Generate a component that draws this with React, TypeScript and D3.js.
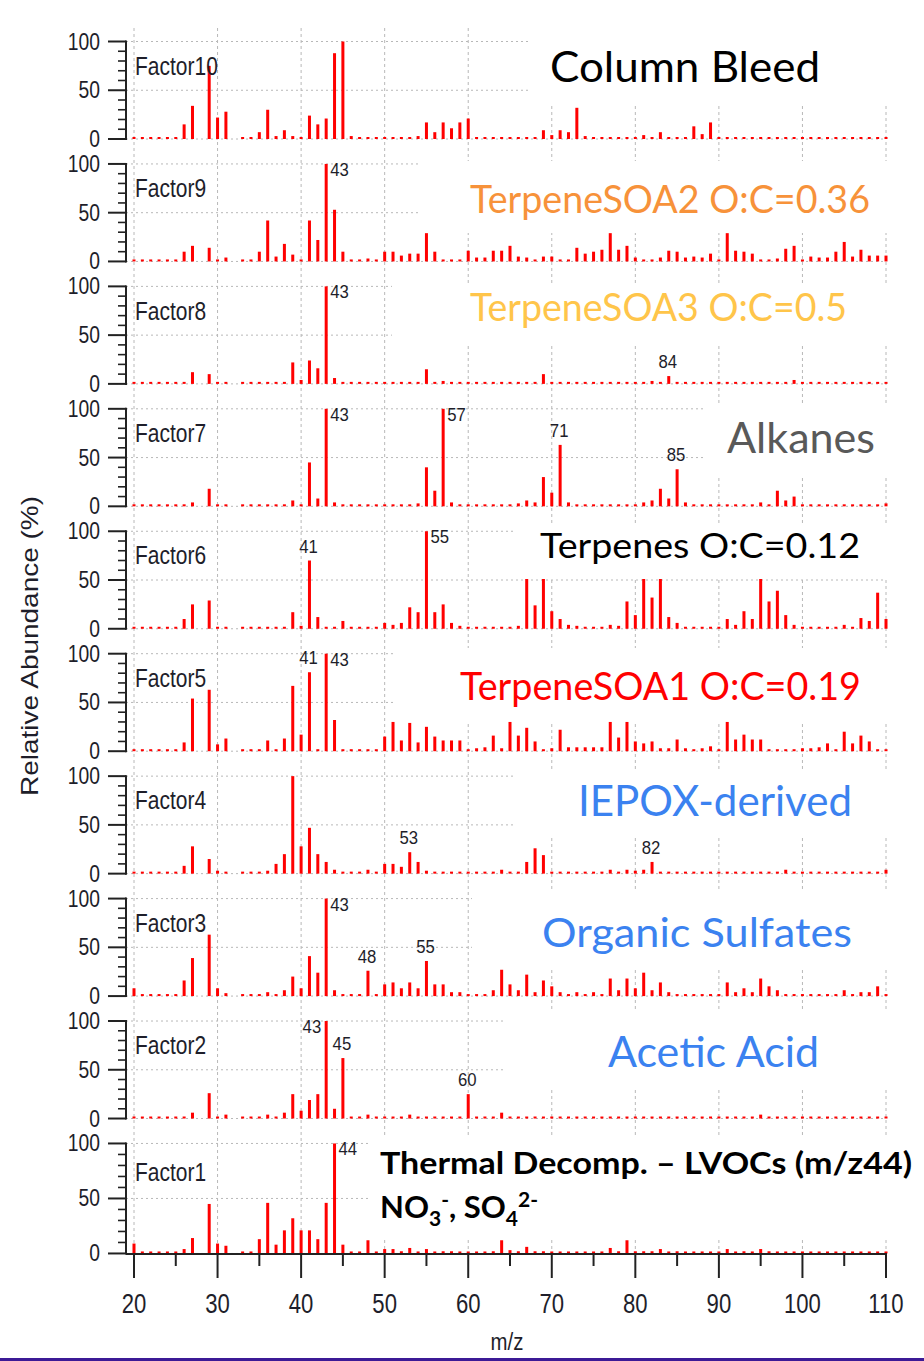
import React from 'react';
import * as d3 from 'd3';

// m/z 20..110, one value per integer m/z (relative abundance, %); 0 = no bar, 0.5 = tiny dot
const factor10 = [
  0.5, 0.5, 0.5, 0.5, 0.5, 0.5, 15, 34, 0, 75,
  22, 28, 0, 0.5, 0.5, 7, 30, 3, 9, 3,
  0.5, 24, 15, 21, 88, 100, 3, 1, 0.5, 0.5,
  1, 1, 1, 1, 3, 17, 7, 17, 11, 17,
  21, 2, 1, 1, 0.5, 1, 1, 1, 1, 9,
  4, 9, 7, 32, 3, 2, 1, 1, 1, 1,
  1, 4, 2, 7, 2, 2, 2, 13, 5, 17,
  1, 1, 1, 1, 1, 1, 1, 2, 1, 1,
  1, 1, 2, 1, 1, 1, 1, 1, 1, 1,
  1,
];
const factor9 = [
  0.5, 0.5, 0.5, 0.5, 0.5, 2, 10, 16, 0, 14,
  0.5, 4, 0, 0.5, 0.5, 10, 42, 5, 18, 7,
  0.5, 42, 22, 100, 53, 10, 2, 2, 3, 2,
  10, 10, 6, 8, 8, 29, 10, 0.5, 2, 0.5,
  11, 4, 4, 11, 11, 16, 5, 4, 0.5, 5,
  5, 2, 2, 14, 8, 10, 12, 29, 12, 16,
  4, 1, 2, 4, 11, 10, 4, 5, 4, 8,
  2, 29, 11, 10, 8, 0.5, 0.5, 3, 13, 16,
  2, 5, 4, 4, 10, 20, 5, 12, 6, 6,
  6,
];
const factor8 = [
  0.5, 0.5, 0.5, 0.5, 0.5, 0.5, 2, 12, 0, 10,
  0.5, 2, 0, 0.5, 0.5, 0.5, 0.5, 0.5, 2, 22,
  4, 24, 16, 100, 6, 0.5, 0.5, 0.5, 0.5, 0.5,
  2, 2, 2, 2, 2, 15, 2, 3, 0.5, 0.5,
  0.5, 0.5, 0.5, 0.5, 0.5, 0.5, 2, 2, 2, 10,
  2, 2, 0.5, 0.5, 0.5, 0.5, 0.5, 0.5, 0.5, 0.5,
  0.5, 2, 3, 2, 8, 2, 0.5, 0.5, 0.5, 0.5,
  0.5, 0.5, 0.5, 0.5, 0.5, 2, 2, 2, 0.5, 4,
  0.5, 0.5, 0.5, 0.5, 0.5, 0.5, 0.5, 0.5, 0.5, 0.5,
  0.5,
];
const factor7 = [
  0.5, 0.5, 0.5, 0.5, 0.5, 0.5, 0.5, 4, 0, 18,
  1, 0.5, 0, 0.5, 0.5, 0.5, 0.5, 0.5, 0.5, 6,
  2, 45, 8, 100, 4, 0.5, 0.5, 0.5, 0.5, 0.5,
  0.5, 2, 0.5, 0.5, 3, 40, 16, 100, 4, 0.5,
  0.5, 0.5, 0.5, 0.5, 0.5, 0.5, 3, 6, 4, 30,
  14, 63, 4, 0.5, 0.5, 0.5, 0.5, 2, 0.5, 1,
  0.5, 4, 6, 18, 8, 38, 4, 0.5, 0.5, 0.5,
  0.5, 2, 0.5, 0.5, 0.5, 4, 2, 16, 6, 10,
  1, 0.5, 0.5, 0.5, 0.5, 0.5, 0.5, 0.5, 0.5, 2,
  3,
];
const factor6 = [
  0.5, 0.5, 0.5, 0.5, 0.5, 1, 10, 25, 0, 29,
  0.5, 2, 0, 0.5, 0.5, 0.5, 2, 1, 0.5, 17,
  3, 70, 12, 0.5, 1, 8, 2, 0.5, 0.5, 0.5,
  6, 4, 6, 22, 17, 100, 17, 25, 6, 3,
  2, 0.5, 0.5, 0.5, 0.5, 0.5, 3, 60, 24, 60,
  18, 10, 4, 3, 0.5, 0.5, 0.5, 4, 3, 28,
  14, 65, 32, 60, 12, 6, 0.5, 0.5, 0.5, 0.5,
  0.5, 10, 4, 18, 10, 60, 28, 39, 14, 4,
  0.5, 0.5, 0.5, 0.5, 0.5, 4, 2, 11, 8, 37,
  10,
];
const factor5 = [
  1, 0.5, 0.5, 0.5, 0.5, 0.5, 9, 54, 0, 63,
  7, 13, 0, 0.5, 0.5, 0.5, 11, 0.5, 13, 67,
  17, 81, 0.5, 100, 32, 0.5, 0.5, 0.5, 1, 1,
  15, 30, 11, 29, 9, 25, 15, 11, 11, 11,
  0.5, 3, 4, 16, 3, 30, 16, 24, 10, 1,
  3, 22, 4, 4, 4, 4, 4, 30, 14, 30,
  10, 8, 10, 3, 3, 12, 3, 2, 3, 5,
  1, 30, 12, 17, 12, 12, 2, 1, 0.5, 1,
  3, 3, 4, 8, 2, 20, 8, 16, 10, 2,
  2,
];
const factor4 = [
  0.5, 0.5, 0.5, 0.5, 0.5, 0.5, 8, 28, 0, 15,
  3, 2, 0, 0.5, 0.5, 0.5, 3, 10, 20, 100,
  28, 47, 20, 12, 4, 0.5, 0.5, 0.5, 4, 0.5,
  10, 10, 7, 22, 12, 3, 2, 0.5, 0.5, 0.5,
  0.5, 0.5, 0.5, 0.5, 4, 0.5, 2, 12, 26, 19,
  2, 2, 0.5, 0.5, 0.5, 0.5, 0.5, 4, 0.5, 4,
  3, 4, 12, 2, 0.5, 0.5, 0.5, 0.5, 0.5, 0.5,
  0.5, 0.5, 0.5, 0.5, 0.5, 2, 0.5, 0.5, 4, 0.5,
  2, 0.5, 0.5, 0.5, 0.5, 0.5, 0.5, 0.5, 0.5, 0.5,
  4,
];
const factor3 = [
  8, 0.5, 0.5, 0.5, 0.5, 2, 16, 39, 0, 63,
  8, 3, 0, 0.5, 0.5, 2, 4, 0.5, 6, 20,
  8, 41, 24, 100, 6, 0.5, 2, 0.5, 26, 2,
  12, 14, 8, 14, 8, 36, 12, 12, 4, 4,
  0.5, 2, 2, 6, 27, 12, 6, 22, 4, 16,
  10, 4, 2, 4, 2, 4, 2, 18, 6, 18,
  8, 24, 6, 14, 4, 2, 2, 0.5, 0.5, 0.5,
  0.5, 14, 4, 8, 4, 18, 10, 6, 2, 0.5,
  0.5, 0.5, 0.5, 2, 0.5, 6, 2, 4, 4, 10,
  2,
];
const factor2 = [
  2, 0.5, 0.5, 0.5, 0.5, 0.5, 2, 6, 0, 26,
  1, 4, 0, 0.5, 0.5, 0.5, 4, 2, 6, 25,
  8, 19, 25, 100, 10, 62, 0.5, 0.5, 4, 0.5,
  2, 2, 0.5, 4, 0.5, 0.5, 0.5, 0.5, 0.5, 0.5,
  25, 0.5, 0.5, 0.5, 6, 0.5, 0.5, 1, 2, 2,
  0.5, 0.5, 0.5, 0.5, 0.5, 0.5, 0.5, 2, 0.5, 2,
  0.5, 2, 0.5, 0.5, 0.5, 0.5, 0.5, 0.5, 0.5, 0.5,
  0.5, 2, 0.5, 0.5, 0.5, 4, 0.5, 0.5, 0.5, 0.5,
  0.5, 0.5, 0.5, 0.5, 0.5, 0.5, 0.5, 0.5, 0.5, 2,
  2,
];
const factor1 = [
  9, 0.5, 0.5, 1, 0.5, 1, 4, 14, 0, 45,
  9, 7, 0, 1, 1, 13, 46, 8, 21, 32,
  21, 21, 13, 46, 100, 8, 1, 1, 12, 1,
  4, 4, 2, 5, 0.5, 4, 1, 2, 2, 1,
  0.5, 1, 1, 2, 12, 3, 2, 6, 2, 2,
  0.5, 0.5, 0.5, 0.5, 0.5, 0.5, 0.5, 5, 2, 12,
  2, 2, 2, 4, 1, 2, 0.5, 0.5, 0.5, 0.5,
  0.5, 4, 1, 2, 0.5, 4, 2, 0.5, 0.5, 0.5,
  0.5, 0.5, 0.5, 0.5, 0.5, 0.5, 0.5, 0.5, 0.5, 0.5,
  0.5,
];

const factorNames = ['Factor10', 'Factor9', 'Factor8', 'Factor7', 'Factor6', 'Factor5', 'Factor4', 'Factor3', 'Factor2', 'Factor1'];
const factorValues = [factor10, factor9, factor8, factor7, factor6, factor5, factor4, factor3, factor2, factor1];

// peak labels: [m/z, placement] r = right of bar top, a = above, l = left of bar top
const peakLabels: [number, string][][] = [
  [],
  [[43, 'r']],
  [[43, 'r'], [84, 'a']],
  [[43, 'r'], [57, 'r'], [71, 'a'], [85, 'a']],
  [[41, 'a'], [55, 'r']],
  [[41, 'a'], [43, 'r']],
  [[53, 'a'], [82, 'a']],
  [[43, 'r'], [48, 'a'], [55, 'a']],
  [[43, 'l'], [45, 'a'], [60, 'a']],
  [[44, 'r']],
];

const sourceNames = [
  'Column Bleed',
  'TerpeneSOA2 O:C=0.36',
  'TerpeneSOA3 O:C=0.5',
  'Alkanes',
  'Terpenes O:C=0.12',
  'TerpeneSOA1 O:C=0.19',
  'IEPOX-derived',
  'Organic Sulfates',
  'Acetic Acid',
  'Thermal Decomp. \u2013 LVOCs (m/z44)',
];

const X_TICKS = [20, 30, 40, 50, 60, 70, 80, 90, 100, 110];
const X_MINOR = [25, 35, 45, 55, 65, 75, 85, 95, 105];
const Y_TICKS = [0, 50, 100];
const Y_MINOR = [10, 20, 30, 40, 60, 70, 80, 90];

// annotation layout (not data)
const SOURCE_STYLE = [
  { color: '#000000', x: 550, y: 82, w: 270, fs: 43, box: [530, 0, 924, 105] },
  { color: '#F7923A', x: 470, y: 213, w: 400, fs: 38, box: [418, 161, 924, 233] },
  { color: '#FFC54A', x: 470, y: 321, w: 377, fs: 38, box: [392, 283, 924, 346] },
  { color: '#595959', x: 727, y: 453, w: 148, fs: 42, box: [705, 403, 924, 477] },
  { color: '#000000', x: 540, y: 558, w: 320, fs: 35, box: [515, 525, 924, 579] },
  { color: '#FF0000', x: 460, y: 700, w: 401, fs: 38, box: [396, 648, 924, 721] },
  { color: '#3B82F0', x: 578, y: 816, w: 274, fs: 42, box: [515, 771, 924, 838] },
  { color: '#3B82F0', x: 542, y: 947, w: 310, fs: 40, box: [472, 890, 924, 967] },
  { color: '#3B82F0', x: 608, y: 1067, w: 211, fs: 42, box: [503, 1012, 924, 1088] },
  { color: '#000000', x: 380, y: 1174, w: 532, fs: 31, box: [370, 1137, 924, 1238] },
];

const AX = 'Liberation Sans, Arial, sans-serif';
const LAB = 'Lato, Open Sans, sans-serif';
const INK = '#1e1e2a';
const GRID = '#b8b8b8';

function SText(props: any) {
  const { x, y, sx = 0.86, anchor = 'start', fs, fill = INK, children } = props;
  return (
    <text
      transform={`translate(${x},${y}) scale(${sx},1)`}
      textAnchor={anchor}
      fontSize={fs}
      fontFamily={AX}
      fill={fill}
    >
      {children}
    </text>
  );
}

export default function App() {
  const x = d3.scaleLinear().domain([20, 110]).range([134, 886]);
  const mz = d3.range(20, 111);
  const axisX = 126;
  const step = 122.44;
  const panels = factorNames.map((name, i) => {
    const top = 41.5 + i * step;
    const h = i === factorNames.length - 1 ? 110 : 97.5;
    const y = d3.scaleLinear().domain([0, 100]).range([top + h, top]);
    return { name, values: factorValues[i], peaks: peakLabels[i], y, top, bottom: top + h, i };
  });
  const last = panels[panels.length - 1];
  const barW = 3;

  return (
    <svg
      width={924}
      height={1361}
      style={{ position: 'absolute', left: 0, top: 0, background: '#fff' }}
      xmlns="http://www.w3.org/2000/svg"
    >
      <rect x={0} y={0} width={924} height={1361} fill="#fff" />
      {/* vertical grid */}
      {X_TICKS.map((t) => (
        <line key={'vg' + t} x1={x(t)} x2={x(t)} y1={28} y2={last.bottom} stroke={GRID} strokeWidth={1} strokeDasharray="3,3" />
      ))}
      {/* horizontal grid */}
      {panels.map((p) =>
        Y_TICKS.map((t) => (
          <line key={'hg' + p.i + '-' + t} x1={axisX} x2={x(110)} y1={p.y(t)} y2={p.y(t)} stroke={GRID} strokeWidth={1} strokeDasharray="2,3" />
        ))
      )}
      {/* bars */}
      {panels.map((p) => (
        <g key={'bars' + p.i}>
          {mz.map((m, k) => {
            const v = p.values[k];
            if (!v) return null;
            const y0 = p.y(0);
            const h = Math.max(y0 - p.y(v), 2);
            return <rect key={m} x={x(m) - barW / 2} y={y0 - h} width={barW} height={h} fill="#FF0000" />;
          })}
        </g>
      ))}
      {/* peak labels */}
      {panels.map((p) =>
        p.peaks.map(([m, pl]) => {
          const v = p.values[m - 20];
          const top = p.y(v);
          const bx = x(m);
          if (pl === 'r') return <SText key={'pk' + p.i + m} x={bx + 4} y={top + 12} fs={19} sx={0.88}>{m}</SText>;
          if (pl === 'l') return <SText key={'pk' + p.i + m} x={bx - 5} y={top + 12} fs={19} sx={0.88} anchor="end">{m}</SText>;
          return <SText key={'pk' + p.i + m} x={bx - 1} y={top - 8} fs={19} sx={0.88} anchor="middle">{m}</SText>;
        })
      )}
      {/* white boxes behind source labels */}
      {SOURCE_STYLE.map((s, i) => (
        <rect key={'box' + i} x={s.box[0]} y={s.box[1]} width={s.box[2] - s.box[0]} height={s.box[3] - s.box[1]} fill="#fff" />
      ))}
      {/* source labels */}
      {SOURCE_STYLE.map((s, i) =>
        i < 9 ? (
          <text key={'src' + i} x={s.x} y={s.y} fontSize={s.fs} fontFamily={LAB} fill={s.color} textLength={s.w} lengthAdjust="spacingAndGlyphs">
            {sourceNames[i]}
          </text>
        ) : (
          <g key={'src' + i}>
            <text x={s.x} y={s.y} fontSize={s.fs} fontWeight="bold" fontFamily={LAB} fill={s.color} textLength={s.w} lengthAdjust="spacingAndGlyphs">
              {sourceNames[i]}
            </text>
            <text x={s.x} y={s.y + 44} fontSize={s.fs} fontWeight="bold" fontFamily={LAB} fill={s.color}>
              <tspan>NO</tspan>
              <tspan fontSize={21} dy={8}>3</tspan>
              <tspan fontSize={21} dy={-19}>-</tspan>
              <tspan dy={11}>, SO</tspan>
              <tspan fontSize={21} dy={8}>4</tspan>
              <tspan fontSize={21} dy={-19}>2-</tspan>
            </text>
          </g>
        )
      )}
      {/* y axes */}
      {panels.map((p) => (
        <g key={'ax' + p.i}>
          <line x1={axisX} x2={axisX} y1={p.top - 1} y2={p.bottom + 1} stroke="#222" strokeWidth={2} />
          {Y_TICKS.map((t) => (
            <line key={'mj' + t} x1={108} x2={axisX} y1={p.y(t)} y2={p.y(t)} stroke="#222" strokeWidth={2} />
          ))}
          {Y_MINOR.map((t) => (
            <line key={'mn' + t} x1={118} x2={axisX} y1={p.y(t)} y2={p.y(t)} stroke="#222" strokeWidth={1.6} />
          ))}
          {Y_TICKS.map((t) => (
            <SText key={'yl' + t} x={100} y={p.y(t) + 8} fs={23} sx={0.84} anchor="end">{t}</SText>
          ))}
          <SText x={135} y={p.y(66)} fs={25} sx={0.84}>{p.name}</SText>
        </g>
      ))}
      {/* bottom x axis */}
      <line x1={axisX} x2={x(110) + 1} y1={last.bottom + 0.5} y2={last.bottom + 0.5} stroke="#222" strokeWidth={2} />
      {X_TICKS.map((t) => (
        <line key={'xt' + t} x1={x(t)} x2={x(t)} y1={last.bottom} y2={1278} stroke="#222" strokeWidth={2} />
      ))}
      {X_MINOR.map((t) => (
        <line key={'xm' + t} x1={x(t)} x2={x(t)} y1={last.bottom} y2={1266} stroke="#222" strokeWidth={2} />
      ))}
      {X_TICKS.map((t) => (
        <SText key={'xl' + t} x={x(t)} y={1313} fs={27} sx={0.82} anchor="middle">{t}</SText>
      ))}
      <SText x={507} y={1350} fs={24} sx={0.85} anchor="middle">m/z</SText>
      <text
        transform="translate(38,646) rotate(-90)"
        textAnchor="middle"
        fontSize={24}
        fontFamily={AX}
        fill={INK}
        textLength={300}
        lengthAdjust="spacingAndGlyphs"
      >
        Relative Abundance (%)
      </text>
      {/* bottom purple border */}
      <rect x={0} y={1358} width={924} height={3} fill="#3C1A96" />
    </svg>
  );
}
